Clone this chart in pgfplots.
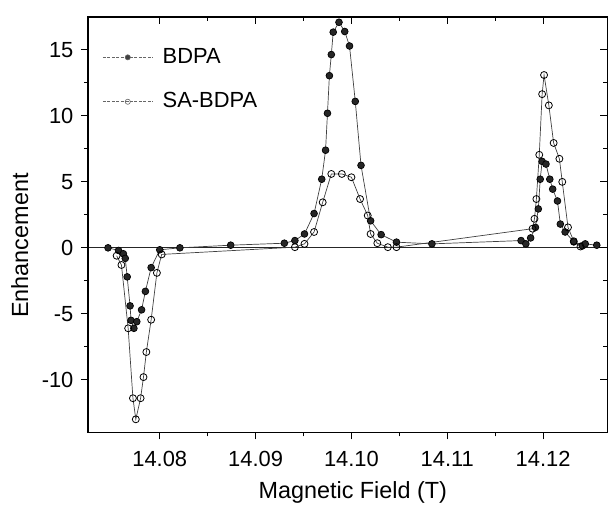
\documentclass[border=0pt]{standalone}
\usepackage{fontspec}
\setmainfont{Liberation Sans}
\usepackage{pgfplots}
\pgfplotsset{compat=1.18}
\pgfplotsset{common/.style={
  scale only axis, width=520bp, height=416bp,
  xmin=14.0725, xmax=14.1267, ymin=-14, ymax=17.5,
  xtick={14.08,14.09,14.10,14.11,14.12},
  ytick={-10,-5,0,5,10,15},
  minor x tick num=1, minor y tick num=1,
  major tick length=7bp, minor tick length=4bp,
  axis line style={line width=1.3bp},
  every tick/.style={black, line width=1bp},
}}
\begin{document}
\fontsize{22}{26}\selectfont
\begin{tikzpicture}
\begin{axis}[common,
  tick align=outside, xtick pos=bottom, ytick pos=left,
  /pgf/number format/assume math mode=true,
  ticklabel style={font=\fontsize{22}{26}\selectfont},
  xticklabel style={yshift=-4bp, /pgf/number format/.cd, fixed, fixed zerofill, precision=2},
  yticklabel style={/pgf/number format/.cd, fixed},
  xlabel={Magnetic Field (T)}, ylabel={Enhancement},
  label style={font=\fontsize{23.5}{28}\selectfont},
  xlabel style={at={(axis description cs:0.51,-0.145)}, anchor=center},
  ylabel style={at={(axis description cs:-0.131,0.45)}, anchor=center},
  legend style={at={(axis description cs:0.022,0.935)}, anchor=north west, draw=none, fill=none,
    font=\fontsize{22}{26}\selectfont, row sep=22bp},
  legend cell align=left,
  legend image code/.code={\draw[#1, draw=black!60, line width=0.6bp, dash pattern=on 3bp off 1.5bp, mark options={solid}, mark repeat=2, mark phase=2, mark size=2.6bp] plot coordinates {(0bp,0bp) (25bp,0bp) (50bp,0bp)}; \path[draw=none] (0bp,0bp) -- (58bp,0bp);},
]
\coordinate (bl) at (rel axis cs:0,0);
\coordinate (tr) at (rel axis cs:1,1);
\addplot[black!85, line width=0.7bp, forget plot] coordinates {(14.0725,0) (14.1267,0)};
\addplot[black!75, line width=0.7bp, mark=*, mark size=3.4bp, mark options={solid, fill=black!85, draw=black}] coordinates {
(14.0746,0.0) (14.0757,-0.2) (14.0762,-0.45) (14.0764,-0.8) (14.0766,-2.2) (14.0769,-4.4)
(14.0770,-5.5) (14.0773,-6.1) (14.0776,-5.6) (14.0781,-4.7) (14.0785,-3.3) (14.0791,-1.5)
(14.0800,-0.15) (14.0821,0.0) (14.0874,0.2) (14.0930,0.35) (14.0941,0.55) (14.0951,1.05)
(14.0961,2.6) (14.0969,5.2) (14.0973,7.4) (14.0975,10.2) (14.0977,13.05) (14.0979,14.65)
(14.0981,16.35) (14.0987,17.1) (14.0993,16.4) (14.0998,15.3) (14.1004,11.1) (14.1010,6.25)
(14.1020,2.05) (14.1031,1.0) (14.1047,0.43) (14.1084,0.3) (14.1177,0.55) (14.1182,0.3)
(14.1187,0.75) (14.1192,1.55) (14.1195,2.95) (14.1197,5.2) (14.1199,6.55) (14.1203,6.35)
(14.1207,5.2) (14.1210,4.45) (14.1215,3.55) (14.1218,1.8) (14.1223,1.2) (14.1232,0.45)
(14.1241,0.15) (14.1244,0.3) (14.1256,0.2)
};
\addlegendentry{BDPA}
\addplot[black!75, line width=0.7bp, mark=o, mark size=3.5bp, mark options={solid, fill=white, draw=black, line width=0.8bp}] coordinates {
(14.0755,-0.6) (14.0760,-1.3) (14.0767,-6.1) (14.0772,-11.4) (14.0775,-13.0) (14.0780,-11.4)
(14.0783,-9.8) (14.0786,-7.9) (14.0791,-5.45) (14.0797,-1.9) (14.0802,-0.5)
(14.0941,0.05) (14.0951,0.3) (14.0961,1.2) (14.0970,3.45) (14.0979,5.6) (14.0990,5.6)
(14.1000,5.35) (14.1009,3.7) (14.1017,2.45) (14.1020,1.05) (14.1027,0.35) (14.1038,0.05)
(14.1047,0.05)
(14.1189,1.45) (14.1191,2.2) (14.1193,3.7) (14.1196,7.05) (14.1199,11.65) (14.1201,13.1)
(14.1206,10.8) (14.1211,7.95) (14.1217,6.75) (14.1220,5.0) (14.1226,1.55) (14.1232,0.5)
(14.1239,0.1)
};
\addlegendentry{SA-BDPA}
\end{axis}
\begin{axis}[common, tick align=inside, xtick pos=top, ytick pos=right,
  xticklabels={}, yticklabels={}]
\end{axis}
\pgfresetboundingbox
\path ([shift={(-88bp,-80bp)}]bl) rectangle ([shift={(0.7bp,17bp)}]tr);
\end{tikzpicture}
\end{document}
